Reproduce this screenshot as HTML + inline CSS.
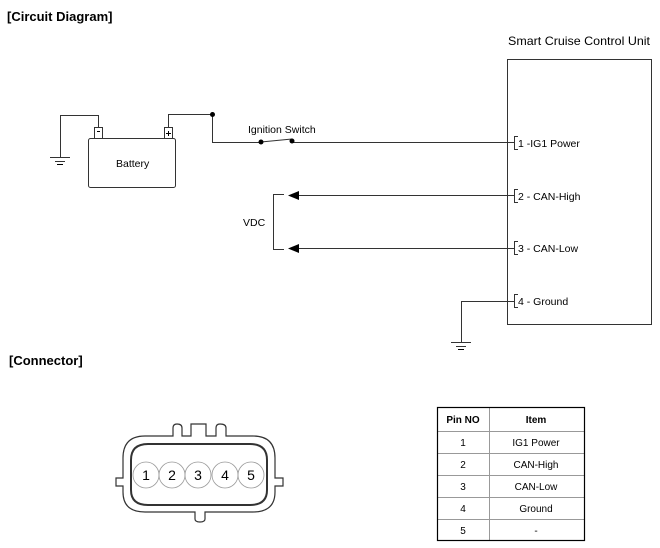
<!DOCTYPE html>
<html><head><meta charset="utf-8"><style>
body{margin:0;background:#fff;width:660px;height:548px;overflow:hidden}
svg{display:block;font-family:"Liberation Sans",Arial,sans-serif}
</style></head><body>
<svg width="660" height="548" viewBox="0 0 660 548" xmlns="http://www.w3.org/2000/svg">
<g fill="#000">
<text x="7" y="21" font-size="13" font-weight="bold">[Circuit Diagram]</text>
<text x="9" y="365" font-size="13" font-weight="bold">[Connector]</text>
<text x="508" y="45" font-size="12" textLength="142" lengthAdjust="spacingAndGlyphs">Smart Cruise Control Unit</text>
<text x="248" y="133" font-size="10.5">Ignition Switch</text>
<text x="116" y="167" font-size="10.5">Battery</text>
<text x="243" y="226" font-size="10.5">VDC</text>
<text x="518" y="147" font-size="10.5">1 -IG1 Power</text>
<text x="518" y="200" font-size="10.5">2 - CAN-High</text>
<text x="518" y="252" font-size="10.5">3 - CAN-Low</text>
<text x="518" y="305" font-size="10.5">4 - Ground</text>
</g>
<g fill="none" stroke="#333" stroke-width="1">
<rect x="507.5" y="59.5" width="144" height="265"/>
<path d="M518 136.5H514.5V149.5H518M518 189.5H514.5V202.5H518M518 241.5H514.5V254.5H518M518 294.5H514.5V307.5H518"/>
<rect x="88.5" y="138.5" width="87" height="49" rx="2"/>
<rect x="94.5" y="127.5" width="8" height="11"/>
<rect x="164.5" y="127.5" width="8" height="11"/>
<path d="M98.5 127V115.5H60.5V157"/>
<path d="M50 157.5H70M55 161.5H65"/>
<path d="M168.5 127V114.5H212.5V142.5H261"/>
<path d="M261 142L292 139"/>
<path d="M292 142.5H514"/>
<path d="M298 195.5H514M298 248.5H514"/>
<path d="M284 194.5H273.5V249.5H284"/>
<path d="M514 301.5H461.5V342"/>
<path d="M451 342.5H471M456 346.5H466"/>
</g>
<g fill="#000">
<circle cx="212.5" cy="114.5" r="2.5"/>
<circle cx="261" cy="142" r="2.5"/>
<circle cx="292" cy="141" r="2.5"/>
<path d="M288 195.5L299 191V200Z"/>
<path d="M288 248.5L299 244V253Z"/>
<rect x="97" y="131" width="3" height="1"/>
<path d="M166 133.5H171M168.5 131V136" stroke="#000" fill="none"/>
<rect x="57" y="164" width="6" height="1"/>
<rect x="458" y="349" width="6" height="1"/>
</g>
<g fill="none" stroke="#333" stroke-width="1.2">
<path d="M145 436 Q123 436 123 458 V478 H116 V486 H123 V492 Q123 512 145 512 H195 V519 Q195 522 200 522 Q205 522 205 519 V512 H253 Q275 512 275 492 V486 H283 V478 H275 V458 Q275 436 253 436 H226 V428 Q226 424 220 424 Q216 424 216 428 V436 H206 V424 H191 V436 H182 V428 Q182 424 177 424 Q173 424 173 428 V436 Z"/>
<path d="M148 444 Q131 444 131 460 V490 Q131 505 148 505 H250 Q267 505 267 490 V460 Q267 444 250 444 Z" stroke-width="2"/>
</g>
<g fill="none" stroke="#999" stroke-width="0.8">
<circle cx="146" cy="475" r="13"/><circle cx="172" cy="475" r="13"/><circle cx="198" cy="475" r="13"/><circle cx="225" cy="475" r="13"/><circle cx="251" cy="475" r="13"/>
</g>
<g font-size="14" text-anchor="middle" fill="#000">
<text x="146" y="480">1</text><text x="172" y="480">2</text><text x="198" y="480">3</text><text x="225" y="480">4</text><text x="251" y="480">5</text>
</g>
<g fill="none" stroke="#999" stroke-width="1">
<path d="M437 431.5H584M437 453.5H584M437 475.5H584M437 497.5H584M437 519.5H584"/>
<path d="M489.5 407V541"/>
</g>
<rect x="437.5" y="407.5" width="147" height="133" fill="none" stroke="#000" stroke-width="1.2"/>
<g font-size="10" text-anchor="middle" fill="#000">
<text x="463" y="423" font-weight="bold">Pin NO</text><text x="536" y="423" font-weight="bold">Item</text>
<text x="463" y="446">1</text><text x="536" y="446">IG1 Power</text>
<text x="463" y="468">2</text><text x="536" y="468">CAN-High</text>
<text x="463" y="490">3</text><text x="536" y="490">CAN-Low</text>
<text x="463" y="512">4</text><text x="536" y="512">Ground</text>
<text x="463" y="534">5</text><text x="536" y="534">-</text>
</g>
</svg>
</body></html>
